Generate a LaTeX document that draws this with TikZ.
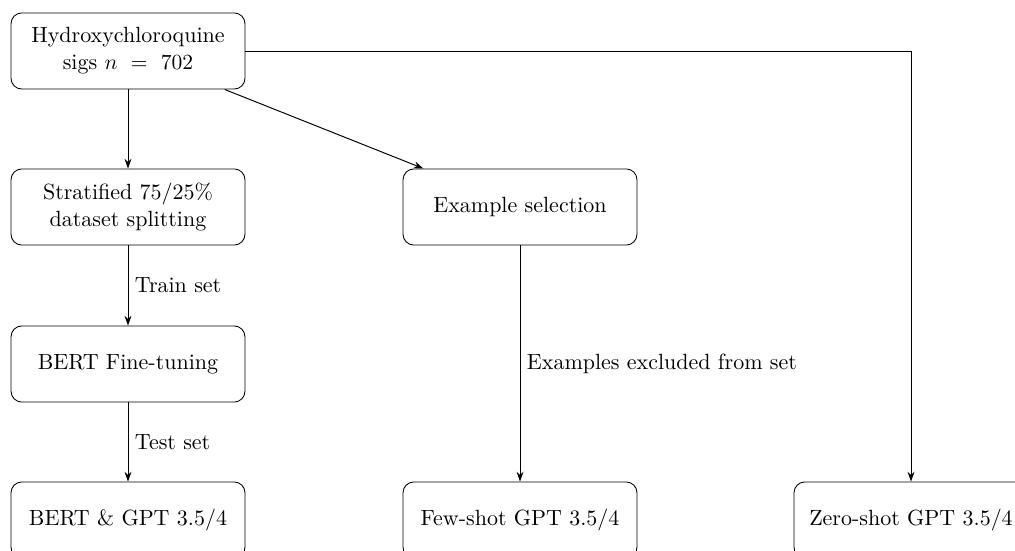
\documentclass[tikz,border=0pt]{standalone}
\usetikzlibrary{arrows.meta}
\begin{document}
\begin{tikzpicture}[x=0.4638pt,y=-0.4638pt,
  font=\fontsize{10.2pt}{12.6pt}\selectfont,
  box/.style={draw, rounded corners=5pt, minimum width=108.5pt, minimum height=35.3pt, align=center, inner sep=2pt},
  arr/.style={-{Stealth[length=4.5pt,width=3.2pt]}, line width=0.45pt},
  lab/.style={right, inner sep=3pt}]
\useasboundingbox (0,0) rectangle (1015,551);
\node[box] (h) at (128,51) {Hydroxychloroquine\\sigs $n\ =\ 702$};
\node[box] (s) at (128,207) {Stratified 75/25\%\\dataset splitting};
\node[box] (e) at (520,207) {Example selection};
\node[box] (b) at (128,364) {BERT Fine-tuning};
\node[box] (r) at (128,520) {BERT \& GPT 3.5/4};
\node[box] (f) at (520,520) {Few-shot GPT 3.5/4};
\node[box] (z) at (911,520) {Zero-shot GPT 3.5/4};
\draw[arr] (h) -- (s);
\draw[arr] (h) -- (e);
\draw[arr] (h.east) -| (z.north);
\draw[arr] (s) -- node[lab] {Train set} (b);
\draw[arr] (b) -- node[lab] {Test set} (r);
\draw[arr] (e) -- node[lab] {Examples excluded from set} (f);
\end{tikzpicture}
\end{document}
